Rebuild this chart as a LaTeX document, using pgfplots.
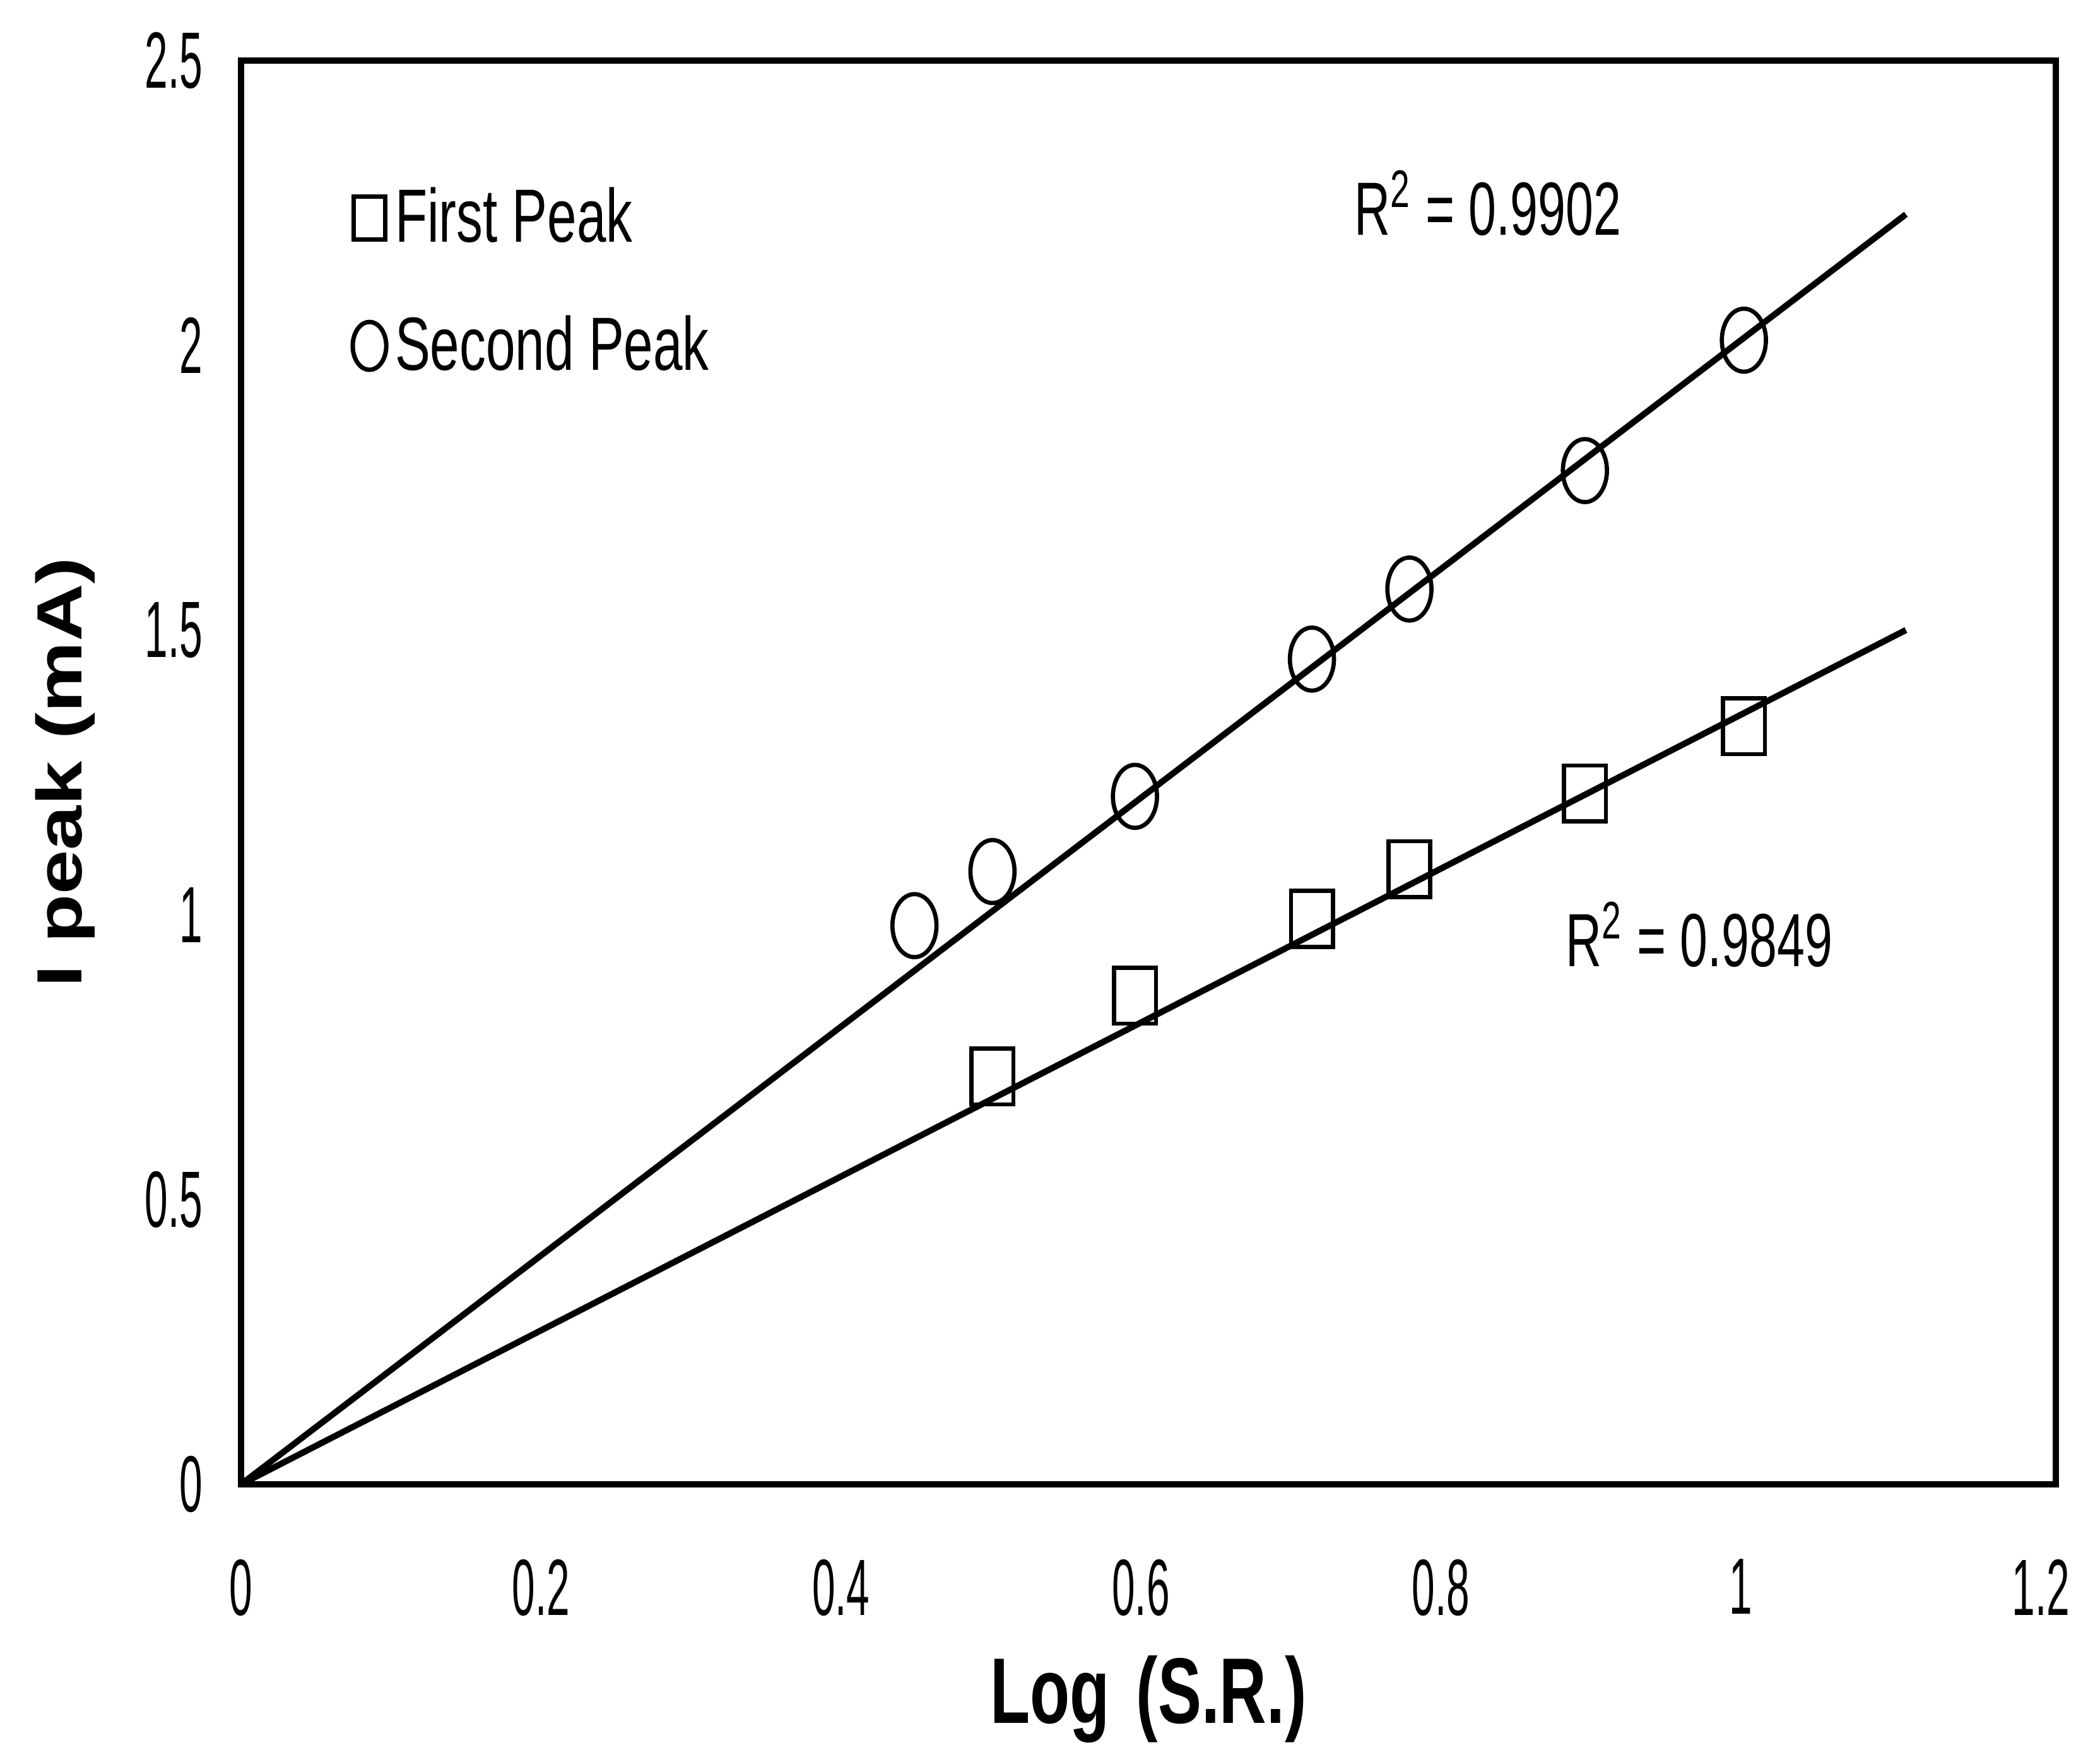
\documentclass[border=0pt]{standalone}
\usepackage{fontspec}
\setmainfont{Liberation Sans}[FakeStretch=0.7]
\newfontfamily\plainsans{Liberation Sans}
\newfontfamily\ticknarrow{Liberation Sans}[FakeStretch=0.52]
\newfontfamily\rnarrow{Liberation Sans}[FakeStretch=0.66]
\usepackage{graphicx}
\usepackage{pgfplots}
\pgfplotsset{compat=1.18}
\usetikzlibrary{calc}
\begin{document}
\begin{tikzpicture}
\begin{axis}[
  name=ax,
  scale only axis,
  width=14.38cm, height=11.28cm,
  xmin=0, xmax=1.21, ymin=0, ymax=2.5,
  xtick={0,0.2,0.4,0.6,0.8,1,1.2},
  ytick={0,0.5,1,1.5,2,2.5},
  major tick length=0pt,
  axis line style={line width=1.3pt},
  tick label style={font=\ticknarrow\fontsize{18}{18}\selectfont},
  /pgf/number format/assume math mode=true,
  xticklabel style={yshift=-0.47cm},
  yticklabel style={xshift=-0.18cm},
  xlabel={\fontsize{21}{21}\selectfont\bfseries Log\hspace{6pt}(S.R.)},
  xlabel style={at={(axis description cs:0.5,-0.151)}, anchor=center},
  ylabel={\scalebox{1}[0.8]{\plainsans\fontsize{18}{18}\selectfont\bfseries I peak (mA)}},
  ylabel style={at={(axis description cs:-0.097,0.5)}, anchor=center, rotate=0},
  legend style={at={(axis cs:0.065,2.31)}, anchor=north west, draw=none, fill=none,
    font=\fontsize{17}{17}\selectfont, row sep=11pt},
  legend cell align=left,
  legend image code/.code={\draw[#1] plot coordinates {(0cm,0cm)};},
]
\addlegendimage{only marks, mark=square, mark size=4.8pt, mark options={xscale=0.75, line width=1pt}}
\addlegendentry{First Peak}
\addlegendimage{only marks, mark=o, mark size=5.4pt, mark options={xscale=0.7, line width=1pt}}
\addlegendentry{Second Peak}

% fitted lines (through origin)
\addplot[line width=1.4pt, forget plot] coordinates {(0,0) (1.11,2.23)};
\addplot[line width=1.4pt, forget plot] coordinates {(0,0) (1.11,1.50)};

% Second peak (circles)
\addplot[only marks, mark=o, mark size=7.1pt, mark options={xscale=0.7, line width=0.95pt}, forget plot]
  coordinates {(0.449,0.981) (0.501,1.076) (0.596,1.208) (0.714,1.449) (0.779,1.572) (0.896,1.780) (1.002,2.009)};
% First peak (squares)
\addplot[only marks, mark=square, mark size=6.3pt, mark options={xscale=0.75, line width=0.95pt}, forget plot]
  coordinates {(0.501,0.716) (0.596,0.858) (0.714,0.993) (0.779,1.080) (0.896,1.213) (1.002,1.331)};

\node[anchor=west, font=\rnarrow\fontsize{17}{17}\selectfont] at (axis cs:0.732,2.25) {R\textsuperscript{2} = 0.9902};
\node[anchor=west, font=\rnarrow\fontsize{17}{17}\selectfont] at (axis cs:0.873,0.965) {R\textsuperscript{2} = 0.9849};
\end{axis}
\path ($(ax.south west)+(-1.91cm,-2.2cm)$) rectangle ($(ax.north east)+(0.35cm,0.48cm)$);
\end{tikzpicture}
\end{document}
